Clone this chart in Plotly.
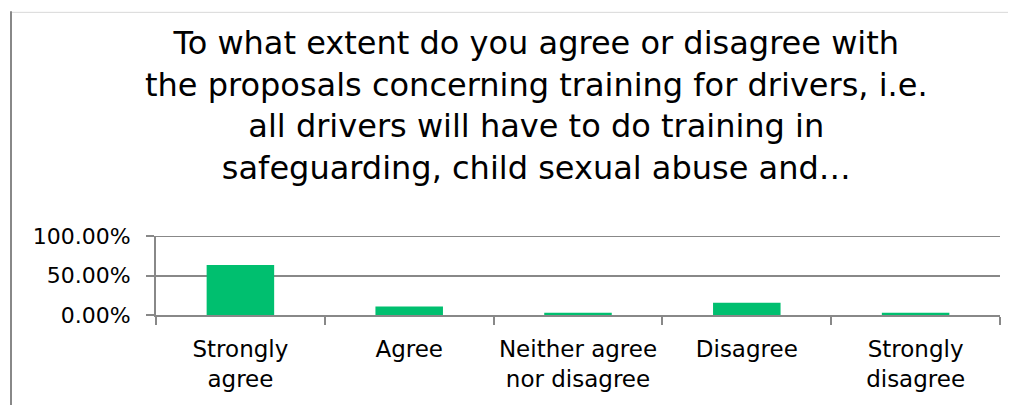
import plotly.graph_objects as go

categories = ["Strongly agree", "Agree", "Neither agree nor disagree", "Disagree", "Strongly disagree"]
tick_labels = ["Strongly<br>agree", "Agree", "Neither agree<br>nor disagree", "Disagree", "Strongly<br>disagree"]
values = [0.634, 0.108, 0.03, 0.155, 0.03]
y_ticks = [0, 0.5, 1.0]

title_text = ("To what extent do you agree or disagree with<br>"
              "the proposals concerning training for drivers, i.e.<br>"
              "all drivers will have to do training in<br>"
              "safeguarding, child sexual abuse and…")

FONT = "DejaVu Sans, Arial, sans-serif"
GRAY = "#888888"

# the page body adds an 8px offset; place everything relative to the screen
OFF = 8
W, H = 1016, 405
PL, PR, PT, PB = 156, 1000, 236, 315.3  # plot area on screen
L, T = PL - OFF, PT - OFF
R = W - (PR - OFF)
B = H - (PB - OFF)
PW = W - L - R
PH = H - T - B


def px_x(x):
    return (x - OFF - L) / PW


def px_y(y):
    return (H - B - (y - OFF)) / PH


fig = go.Figure(go.Bar(
    x=categories, y=values, width=0.4,
    marker=dict(color="#00BF6F", line=dict(width=0)),
))

fig.update_layout(
    width=W, height=H,
    paper_bgcolor="white", plot_bgcolor="white",
    margin=dict(l=L, r=R, t=T, b=B, autoexpand=False),
    showlegend=False,
    font=dict(family=FONT, color="black"),
    annotations=[dict(
        text=title_text, xref="paper", yref="paper",
        x=px_x(536), y=px_y(21), xanchor="center", yanchor="top",
        showarrow=False, align="center",
        font=dict(family=FONT, size=32, color="black"),
    )],
    shapes=[
        dict(type="line", xref="paper", yref="paper", x0=px_x(11), x1=px_x(1030), y0=px_y(11.5), y1=px_y(11.5),
             line=dict(color="#d9d9d9", width=1)),
        dict(type="line", xref="paper", yref="paper", x0=px_x(11), x1=px_x(11), y0=px_y(10.5), y1=px_y(420),
             line=dict(color=GRAY, width=2)),
        dict(type="line", xref="paper", yref="y", x0=0, x1=1, y0=1, y1=1,
             line=dict(color=GRAY, width=2), layer="below"),
    ],
)

fig.update_xaxes(
    categoryorder="array", categoryarray=categories,
    tickvals=categories, ticktext=tick_labels,
    tickson="boundaries", ticks="outside", ticklen=8, tickwidth=2, tickcolor=GRAY,
    showline=True, linecolor=GRAY, linewidth=2,
    showgrid=False, automargin=False,
    ticklabelstandoff=12,
    tickfont=dict(family=FONT, size=23, color="black"),
)
fig.update_yaxes(
    range=[0, 1], tickvals=y_ticks, tickformat=".2%",
    ticks="outside", ticklen=8, tickwidth=2, tickcolor=GRAY,
    showline=True, linecolor=GRAY, linewidth=2,
    showgrid=True, gridcolor=GRAY, gridwidth=2,
    zeroline=False, automargin=False,
    ticklabelstandoff=11,
    tickfont=dict(family=FONT, size=22, color="black"),
)

fig.write_html("out.html")
